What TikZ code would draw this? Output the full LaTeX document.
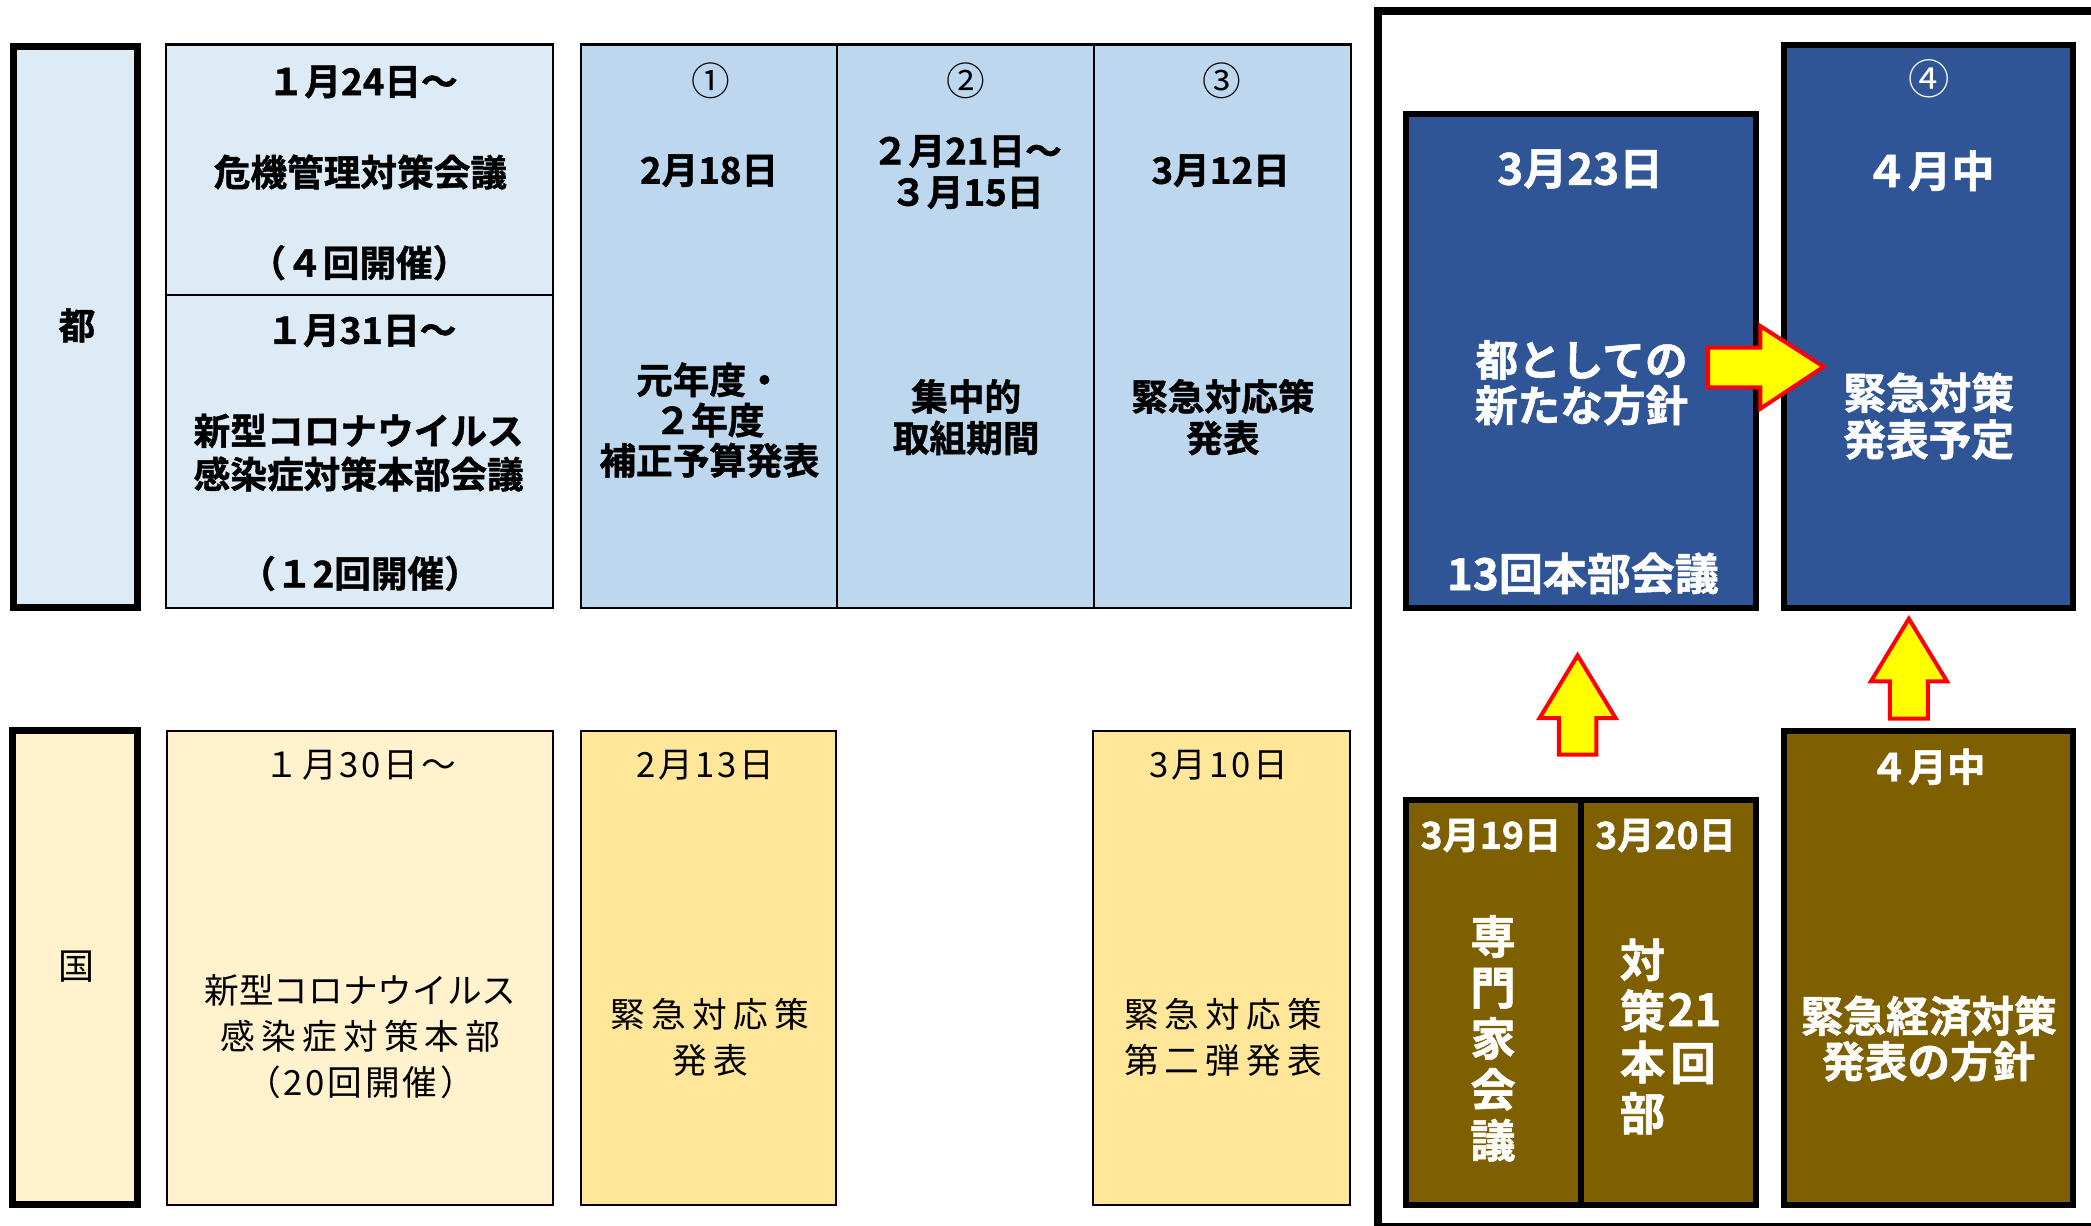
\documentclass[tikz,border=0pt]{standalone}
\usepackage{fontspec}
\newfontfamily\jp{Noto Sans CJK JP}
\newfontfamily\jpb{Noto Sans CJK JP}[UprightFont=* Bold, FakeBold=1.2]
\newfontfamily\jpls{Noto Sans CJK JP}[LetterSpace=18]
\newfontfamily\jplsa{Noto Sans CJK JP}[LetterSpace=8]
\definecolor{lbone}{HTML}{DDEBF7}
\definecolor{lbtwo}{HTML}{BDD7EE}
\definecolor{lyone}{HTML}{FFF2CC}
\definecolor{lytwo}{HTML}{FFE699}
\definecolor{dblue}{HTML}{2F5597}
\definecolor{brownone}{HTML}{7F6000}
\definecolor{arrowyellow}{HTML}{FFFF00}
\definecolor{arrowred}{HTML}{FF0000}
\tikzset{
  anybox/.style={inner sep=0pt, outer sep=0pt, anchor=north west, rectangle},
  thinbox/.style={anybox, draw=black, line width=1.6pt},
  labelbox/.style={anybox, draw=black, line width=5.3pt},
  darkbox/.style={anybox, draw=black, line width=4.5pt},
  framebox/.style={anybox, draw=black, line width=6pt},
  tb/.style={inner sep=0pt, outer sep=0pt, align=center, font=\jpb\fontsize{27.5}{31}\selectfont},
  tw/.style={inner sep=0pt, outer sep=0pt, align=center, text=white, font=\jpb\fontsize{32}{34}\selectfont},
  tn/.style={inner sep=0pt, outer sep=0pt, align=center, font=\jp\fontsize{26}{34.5}\selectfont},
  circ/.style={inner sep=0pt, outer sep=0pt, font=\jp\fontsize{29}{30}\selectfont},
  blockarrow/.style={fill=arrowyellow, draw=arrowred, line width=3pt, line join=miter},
}
\begin{document}
\begin{tikzpicture}[x=1pt,y=-1pt]
\clip (0,0) rectangle (1568,919);
\useasboundingbox (0,0) rectangle (1568,919);
\fill[white] (0,0) rectangle (1568,919);

% outer frame on the right
\node[framebox, minimum width=566.6pt, minimum height=911.9pt] (frame) at (1033.4,8.1) {};

% left labels
\node[labelbox, fill=lbone, minimum width=93.2pt, minimum height=420.7pt] (to) at (10.15,34.65) {};
\node[labelbox, fill=lyone, minimum width=94.3pt, minimum height=355.7pt] (kuni) at (9.15,547.65) {};

% upper (metropolis) boxes
\node[thinbox, fill=lbone, minimum width=290.2pt, minimum height=187.6pt] (b124) at (124.8,33.4) {};
\node[thinbox, fill=lbone, minimum width=290.2pt, minimum height=234.8pt] (b131) at (124.8,221) {};
\node[thinbox, fill=lbtwo, minimum width=191.6pt, minimum height=422.4pt] (c1) at (435.9,33.4) {};
\node[thinbox, fill=lbtwo, minimum width=192.9pt, minimum height=422.4pt] (c2) at (627.5,33.4) {};
\node[thinbox, fill=lbtwo, minimum width=192.4pt, minimum height=422.4pt] (c3) at (820.4,33.4) {};

% lower (national) boxes
\node[thinbox, fill=lyone, minimum width=289.3pt, minimum height=355.1pt] (g130) at (125.3,548.4) {};
\node[thinbox, fill=lytwo, minimum width=191.1pt, minimum height=355.1pt] (g213) at (435.8,548.4) {};
\node[thinbox, fill=lytwo, minimum width=192.4pt, minimum height=355.1pt] (g310) at (819.8,548.4) {};

% dark boxes
\node[darkbox, fill=dblue, minimum width=262.5pt, minimum height=370.5pt] (d323) at (1054.25,85.25) {};
\node[darkbox, fill=dblue, minimum width=216.4pt, minimum height=422pt] (d4) at (1337.85,33.75) {};
\node[darkbox, fill=brownone, minimum width=131.45pt, minimum height=303.4pt] (br319) at (1054.25,599.95) {};
\node[darkbox, fill=brownone, minimum width=131.05pt, minimum height=303.4pt] (br320) at (1185.7,599.95) {};
\node[darkbox, fill=brownone, minimum width=216.4pt, minimum height=355.1pt] (br4) at (1337.85,548.25) {};

% block arrows
\draw[blockarrow] (1280.8,260.7) -- (1320,260.7) -- (1320,244.5) -- (1367.5,275) -- (1320,306.5) -- (1320,290.4) -- (1280.8,290.4) -- cycle;
\draw[blockarrow] (1183,491.5) -- (1211.5,538.5) -- (1197,538.5) -- (1197,565.9) -- (1168.9,565.9) -- (1168.9,538.5) -- (1154.5,538.5) -- cycle;
\draw[blockarrow] (1431.4,464) -- (1460,510.9) -- (1445.7,510.9) -- (1445.7,538.9) -- (1417.1,538.9) -- (1417.1,510.9) -- (1403,510.9) -- cycle;

% texts: metropolis row
\node[tb] (tto) at (57.7,244) {都};
\node[tb] (t124) at (272,61.5) {１月24日～};
\node[tb] (tkiki) at (270.3,129) {危機管理対策会議};
\node[tb] (t4kai) at (269.5,197) {（４回開催）};
\node[tb] (t131) at (271,248) {１月31日～};
\node[tb, font=\jpb\fontsize{27.5}{32.6}\selectfont] (thonbu) at (269,339.4) {新型コロナウイルス\\感染症対策本部会議};
\node[tb] (t12kai) at (270,430) {（１2回開催）};

\node[circ] (n1) at (532.7,60.8) {①};
\node[tb] (t218) at (531.7,128) {2月18日};
\node[tb, font=\jpb\fontsize{27.5}{30.2}\selectfont] (thosei) at (532,315) {元年度・\\２年度\\補正予算発表};

\node[circ] (n2) at (724,60.8) {②};
\node[tb] (t221) at (725,129) {２月21日～\\３月15日};
\node[tb] (tshuchu) at (724.5,312.8) {集中的\\取組期間};

\node[circ] (n3) at (916,60.8) {③};
\node[tb] (t312) at (915.3,128) {3月12日};
\node[tb] (tkinkyu) at (917,312.8) {緊急対応策\\発表};

% dark blue boxes
\node[tw, font=\jpb\fontsize{33}{34}\selectfont] (t323) at (1185,126.8) {3月23日};
\node[tw] (thoushin) at (1186,287) {都としての\\新たな方針};
\node[tw, font=\jpb\fontsize{33}{34}\selectfont] (t13kai) at (1187,430) {13回本部会議};
\node[circ, text=white, font=\jp\fontsize{31}{32}\selectfont] (n4) at (1446.3,59) {④};
\node[tw, font=\jpb\fontsize{32.5}{34}\selectfont] (t4gatsu) at (1447,128) {４月中};
\node[tw, font=\jpb\fontsize{32}{35}\selectfont] (tyotei) at (1446.3,312) {緊急対策\\発表予定};

% brown boxes
\node[tw, font=\jpb\fontsize{28}{30}\selectfont] (t319) at (1118,626.6) {3月19日};
\node[tw, font=\jpb\fontsize{28}{30}\selectfont] (t320) at (1249,626.6) {3月20日};
\node[tw, font=\jpb\fontsize{34}{38.2}\selectfont] (tsenmon) at (1119.6,778.7) {専\\門\\家\\会\\議};
\node[tw, font=\jpb\fontsize{34}{38.3}\selectfont] (ttaisaku) at (1231.7,777.2) {対\\策\\本\\部};
\node[tw, font=\jpb\fontsize{34}{36}\selectfont] (t21) at (1270.6,757) {21};
\node[tw, font=\jpb\fontsize{34}{36}\selectfont] (tkai) at (1269.6,797.6) {回};
\node[tw, font=\jpb\fontsize{29}{30}\selectfont] (t4low) at (1445.4,575) {４月中};
\node[tw, font=\jpb\fontsize{32}{34}\selectfont] (tkeizai) at (1446.3,778.8) {緊急経済対策\\発表の方針};

% national row
\node[tn, font=\jp\fontsize{27}{30}\selectfont] (tkuni) at (57.3,725) {国};
\node[tn, font=\jplsa\fontsize{26}{30}\selectfont] (t130) at (270.3,574) {１月30日～};
\node[tn] (tkuniHQ) at (270.3,777.1) {新型コロナウイルス\\{\jpls 感染症対策本部}\\{\jplsa （20回開催）}};
\node[tn, font=\jplsa\fontsize{26}{30}\selectfont] (t213) at (529,574) {2月13日};
\node[tn, font=\jpls\fontsize{26}{35}\selectfont] (tkuni213) at (532.4,777.8) {緊急対応策\\発表};
\node[tn, font=\jplsa\fontsize{26}{30}\selectfont] (t310) at (914,574) {3月10日};
\node[tn, font=\jpls\fontsize{26}{35}\selectfont] (tkuni310) at (917.3,777.8) {緊急対応策\\第二弾発表};
\end{tikzpicture}
\end{document}
